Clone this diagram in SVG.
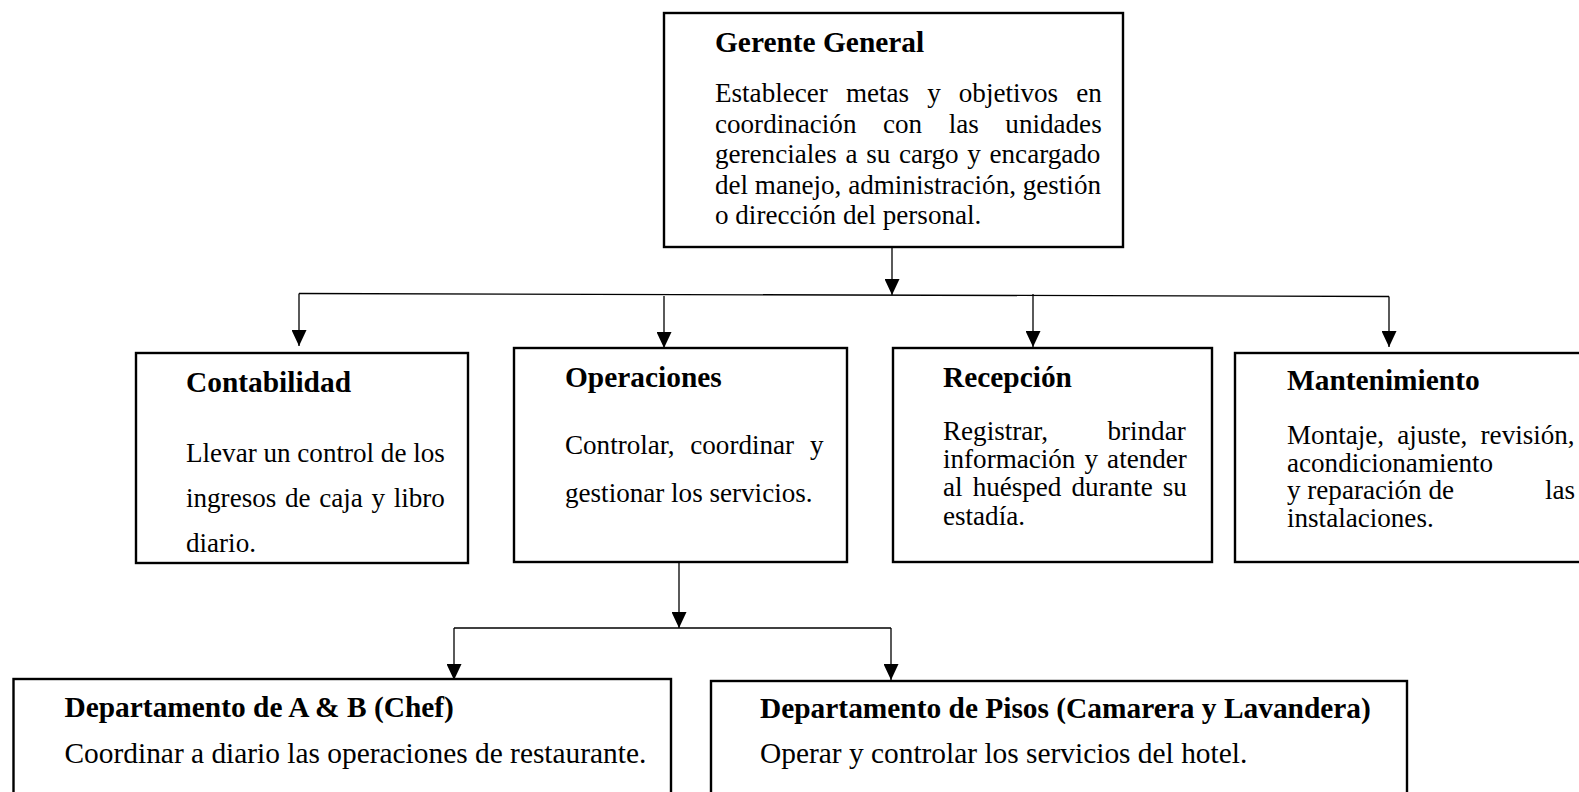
<svg xmlns="http://www.w3.org/2000/svg" width="1579" height="792" viewBox="0 0 1579 792">
<style>
.box{fill:#fff;stroke:#000;stroke-width:2.4}
.con{fill:none;stroke:#000;stroke-width:1.3}
.t{font-family:"Liberation Serif","Times New Roman",serif;font-size:27.1px;fill:#000}
.h{font-family:"Liberation Serif","Times New Roman",serif;font-size:29.4px;font-weight:bold;fill:#000}
.tb{font-family:"Liberation Serif","Times New Roman",serif;font-size:29.4px;fill:#000}
</style>
<defs>
<marker id="arr" markerUnits="userSpaceOnUse" markerWidth="16" markerHeight="15" refX="16" refY="7.5" orient="auto">
<path d="M0,0 L16,7.5 L0,15 z" fill="#000"/>
</marker>
</defs>
<rect width="1579" height="792" fill="#fff"/>

<g id="connectors">
<line class="con" x1="892" y1="247" x2="892" y2="295" marker-end="url(#arr)"/>
<line class="con" x1="299" y1="293.5" x2="1389" y2="296.5"/>
<line class="con" x1="299" y1="293.5" x2="299" y2="346" marker-end="url(#arr)"/>
<line class="con" x1="664" y1="296" x2="664" y2="348" marker-end="url(#arr)"/>
<line class="con" x1="1033" y1="294" x2="1033" y2="347" marker-end="url(#arr)"/>
<line class="con" x1="1389" y1="296.5" x2="1389" y2="347" marker-end="url(#arr)"/>
<line class="con" x1="679" y1="563" x2="679" y2="628" marker-end="url(#arr)"/>
<line class="con" x1="454" y1="628" x2="891" y2="628"/>
<line class="con" x1="454" y1="628" x2="454" y2="680" marker-end="url(#arr)"/>
<line class="con" x1="891" y1="628" x2="891" y2="680" marker-end="url(#arr)"/>
</g>

<g id="gerente">
<rect class="box" x="664" y="13" width="459" height="234"/>
<text class="h" x="715" y="52">Gerente General</text>
<text class="t" x="715" y="102" word-spacing="11.3">Establecer metas y objetivos en</text>
<text class="t" x="715" y="132.5" word-spacing="19.8">coordinación con las unidades</text>
<text class="t" x="715" y="163" word-spacing="1.9">gerenciales a su cargo y encargado</text>
<text class="t" x="715" y="193.5">del manejo, administración, gestión</text>
<text class="t" x="715" y="224">o dirección del personal.</text>
</g>

<g id="contabilidad">
<rect class="box" x="136" y="353" width="332" height="210"/>
<text class="h" x="186" y="392">Contabilidad</text>
<text class="t" x="186" y="462">Llevar un control de los</text>
<text class="t" x="186" y="507" word-spacing="1.9">ingresos de caja y libro</text>
<text class="t" x="186" y="552">diario.</text>
</g>

<g id="operaciones">
<rect class="box" x="514" y="348" width="333" height="214"/>
<text class="h" x="565" y="387">Operaciones</text>
<text class="t" x="565" y="454" word-spacing="9">Controlar, coordinar y</text>
<text class="t" x="565" y="501.5">gestionar los servicios.</text>
</g>

<g id="recepcion">
<rect class="box" x="893" y="348" width="319" height="214"/>
<text class="h" x="943" y="387">Recepción</text>
<text class="t" x="943" y="439.5" word-spacing="52.7">Registrar, brindar</text>
<text class="t" x="943" y="468" word-spacing="2.3">información y atender</text>
<text class="t" x="943" y="496" word-spacing="3.3">al huésped durante su</text>
<text class="t" x="943" y="524.5">estadía.</text>
</g>

<g id="mantenimiento">
<rect class="box" x="1235" y="353" width="400" height="209"/>
<text class="h" x="1287" y="390">Mantenimiento</text>
<text class="t" x="1287" y="444" word-spacing="6.5">Montaje, ajuste, revisión,</text>
<text class="t" x="1287" y="471.5">acondicionamiento</text>
<text class="t" x="1287" y="499">y reparación de <tspan x="1545">las</tspan></text>
<text class="t" x="1287" y="526.5">instalaciones.</text>
</g>

<g id="depto-ab">
<rect class="box" x="13.5" y="679" width="657.5" height="140"/>
<text class="h" x="64.5" y="716.5">Departamento de A &amp; B (Chef)</text>
<text class="tb" x="64.5" y="763">Coordinar a diario las operaciones de restaurante.</text>
</g>

<g id="depto-pisos">
<rect class="box" x="711" y="681" width="696" height="140"/>
<text class="h" x="760" y="717.5">Departamento de Pisos (Camarera y Lavandera)</text>
<text class="tb" x="760" y="763">Operar y controlar los servicios del hotel.</text>
</g>
</svg>
